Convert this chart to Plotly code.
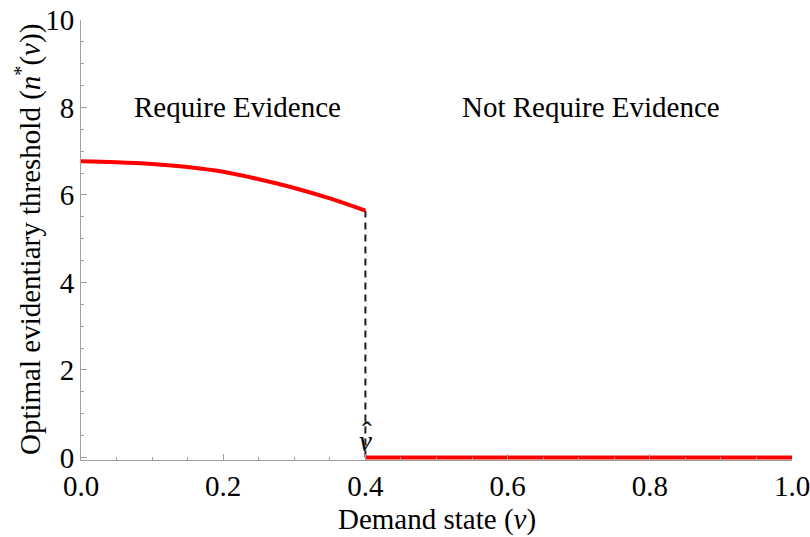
import plotly.graph_objects as go

# Data
v_req = [0.0, 0.05, 0.10, 0.15, 0.20, 0.25, 0.30, 0.35, 0.40]
n_req = [6.77, 6.75, 6.71, 6.64, 6.53, 6.36, 6.16, 5.92, 5.64]
v_not = [0.40, 1.0]
n_not = [0.0, 0.0]
v_hat = 0.40
x_ticks = [0.0, 0.2, 0.4, 0.6, 0.8, 1.0]
x_ticklabels = ["0.0", "0.2", "0.4", "0.6", "0.8", "1.0"]
y_ticks = [0, 2, 4, 6, 8, 10]
y_ticklabels = ["0", "2", "4", "6", "8", "10"]

FONT = "Liberation Serif, Times New Roman, serif"
FS = 29
AXC = "#a0a0a0"

fig = go.Figure()
fig.add_trace(go.Scatter(x=[v_hat, v_hat], y=[0, n_req[-1]], mode="lines",
                         line=dict(color="#222222", width=2, dash="7px,5px"),
                         showlegend=False, hoverinfo="skip"))
fig.add_trace(go.Scatter(x=v_req, y=n_req, mode="lines", line=dict(color="#ff0000", width=4, shape="spline"),
                         showlegend=False))
fig.add_trace(go.Scatter(x=v_not, y=n_not, mode="lines", line=dict(color="#ff0000", width=4),
                         showlegend=False))

fig.update_layout(
    width=810, height=537, autosize=False,
    margin=dict(l=81, r=18, t=20, b=77),
    paper_bgcolor="white", plot_bgcolor="white",
    font=dict(family=FONT, size=FS, color="black"),
    xaxis=dict(range=[0, 1], tickvals=x_ticks, ticktext=x_ticklabels, showgrid=False, zeroline=False,
               showline=True, linecolor=AXC, linewidth=1, ticks="inside", ticklen=6, tickcolor=AXC,
               minor=dict(dtick=0.05, ticks="inside", ticklen=3, tickcolor=AXC, showgrid=False),
               tickfont=dict(family=FONT, size=FS), automargin=False, ticklabeloverflow="allow"),
    yaxis=dict(range=[-0.06, 10], tickvals=y_ticks, ticktext=y_ticklabels, showgrid=False, zeroline=False,
               showline=True, linecolor=AXC, linewidth=1, ticks="inside", ticklen=6, tickcolor=AXC,
               minor=dict(dtick=0.5, ticks="inside", ticklen=3, tickcolor=AXC, showgrid=False),
               tickfont=dict(family=FONT, size=FS), automargin=False, ticklabeloverflow="allow"),
)

fig.add_annotation(x=0.22, y=8, xref="x", yref="y", text="Require Evidence", showarrow=False,
                   font=dict(family=FONT, size=FS))
fig.add_annotation(x=0.717, y=8, xref="x", yref="y", text="Not Require Evidence", showarrow=False,
                   font=dict(family=FONT, size=FS))
# v-hat label: italic v with a circumflex above
fig.add_annotation(x=v_hat, y=0, xref="x", yref="y", text="<i>v</i>", showarrow=False,
                   yanchor="bottom", yshift=-2, font=dict(family=FONT, size=FS))
fig.add_annotation(x=v_hat, y=0, xref="x", yref="y", text="ˆ", showarrow=False,
                   yanchor="bottom", xshift=2, yshift=7, font=dict(family=FONT, size=FS))
fig.add_annotation(x=0.5, y=-0.136, xref="paper", yref="paper", text="Demand state (<i>v</i>)",
                   showarrow=False, yanchor="middle", font=dict(family=FONT, size=FS))
fig.add_annotation(x=-0.0745, y=0.5, xref="paper", yref="paper",
                   text="Optimal evidentiary threshold (<i>n</i><sup>*</sup>(<i>v</i>))",
                   textangle=-90, showarrow=False, xanchor="center", yanchor="middle",
                   font=dict(family=FONT, size=FS))

fig.write_html("out.html", config={"displayModeBar": False},
               post_script="document.body.style.margin='0';document.body.style.overflow='hidden';")
